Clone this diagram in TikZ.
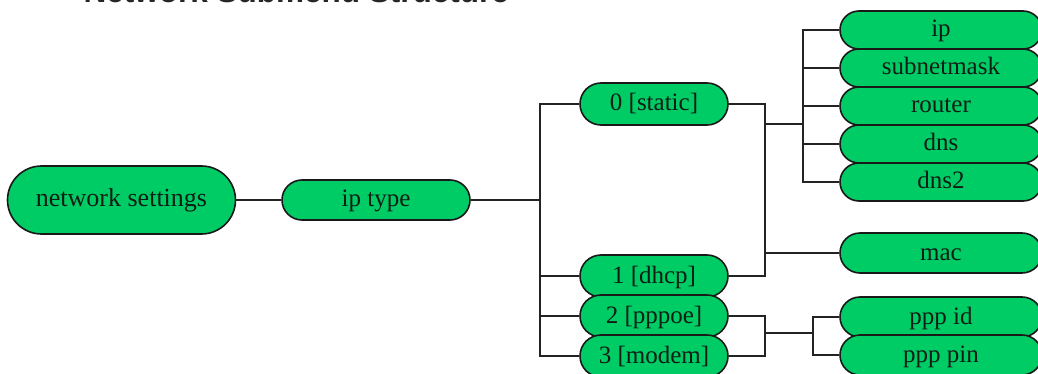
\documentclass[tikz,border=0pt]{standalone}
\usepackage{fontspec}
\setmainfont{Liberation Serif}
\newfontfamily\titlefont{Liberation Sans}
\definecolor{pillgreen}{RGB}{0,204,102}
\definecolor{pilltext}{RGB}{15,30,20}
\definecolor{lineclr}{RGB}{35,35,35}
\begin{document}
\begin{tikzpicture}[x=1pt,y=-1pt,
  pill/.style={draw=black!90, line width=1.6pt, fill=pillgreen, text=pilltext,
    rounded corners=#1, inner sep=0pt, text height=18pt, text depth=4pt,
    font=\fontsize{25}{28}\selectfont},
  conn/.style={draw=lineclr, line width=1.5pt}]
\useasboundingbox (0,0) rectangle (1038,374);
\node[anchor=base west, font=\titlefont\bfseries\fontsize{31.5}{36}\selectfont, text=black!85] (title) at (80,3) {Network Submenu Structure};
% nodes
\node[pill=34pt, minimum width=228pt, minimum height=68pt, font=\fontsize{26}{30}\selectfont] (ns) at (121.5,200) {network settings};
\node[pill=20pt, minimum width=188pt, minimum height=40pt] (ipt) at (376,200) {ip type};
\node[pill=21pt, minimum width=148pt, minimum height=42pt] (st) at (654,104) {0 [static]};
\node[pill=21pt, minimum width=148pt, minimum height=42pt] (dh) at (654,276) {1 [dhcp]};
\node[pill=21pt, minimum width=148pt, minimum height=42pt] (pp) at (654,316) {2 [pppoe]};
\node[pill=21pt, minimum width=148pt, minimum height=42pt] (mo) at (654,356) {3 [modem]};
\node[pill=19pt, minimum width=202pt, minimum height=38pt] (ip) at (941,30) {ip};
\node[pill=19pt, minimum width=202pt, minimum height=38pt] (sm) at (941,68) {subnetmask};
\node[pill=19pt, minimum width=202pt, minimum height=38pt] (ro) at (941,106) {router};
\node[pill=19pt, minimum width=202pt, minimum height=38pt] (dn) at (941,144) {dns};
\node[pill=19pt, minimum width=202pt, minimum height=38pt] (dn2) at (941,182) {dns2};
\node[pill=20pt, minimum width=202pt, minimum height=40pt] (mac) at (941,253) {mac};
\node[pill=20pt, minimum width=202pt, minimum height=40pt] (pid) at (941,317) {ppp id};
\node[pill=20pt, minimum width=202pt, minimum height=40pt] (ppin) at (941,355) {ppp pin};
% junction coordinates
\coordinate (b1) at (540,200);
\coordinate (b2) at (765,124);
\coordinate (b3) at (803,124);
\coordinate (b5) at (765,333);
\coordinate (b6) at (813,333);
% connectors
\draw[conn] (ns.east) -- (ipt.west);
\draw[conn] (ipt.east) -- (b1);
\draw[conn] (b1) |- (st.west);
\draw[conn] (b1) |- (dh.west);
\draw[conn] (b1) |- (pp.west);
\draw[conn] (b1) |- (mo.west);
\draw[conn] (st.east) -| (b2);
\draw[conn] (dh.east) -| (b2);
\draw[conn] (b2) -- (b3);
\draw[conn] (b3) |- (ip.west);
\draw[conn] (b3) |- (sm.west);
\draw[conn] (b3) |- (ro.west);
\draw[conn] (b3) |- (dn.west);
\draw[conn] (b3) |- (dn2.west);
\draw[conn] (b2 |- mac.west) -- (mac.west);
\draw[conn] (pp.east) -| (b5);
\draw[conn] (mo.east) -| (b5);
\draw[conn] (b5) -- (b6);
\draw[conn] (b6) |- (pid.west);
\draw[conn] (b6) |- (ppin.west);
\end{tikzpicture}
\end{document}
